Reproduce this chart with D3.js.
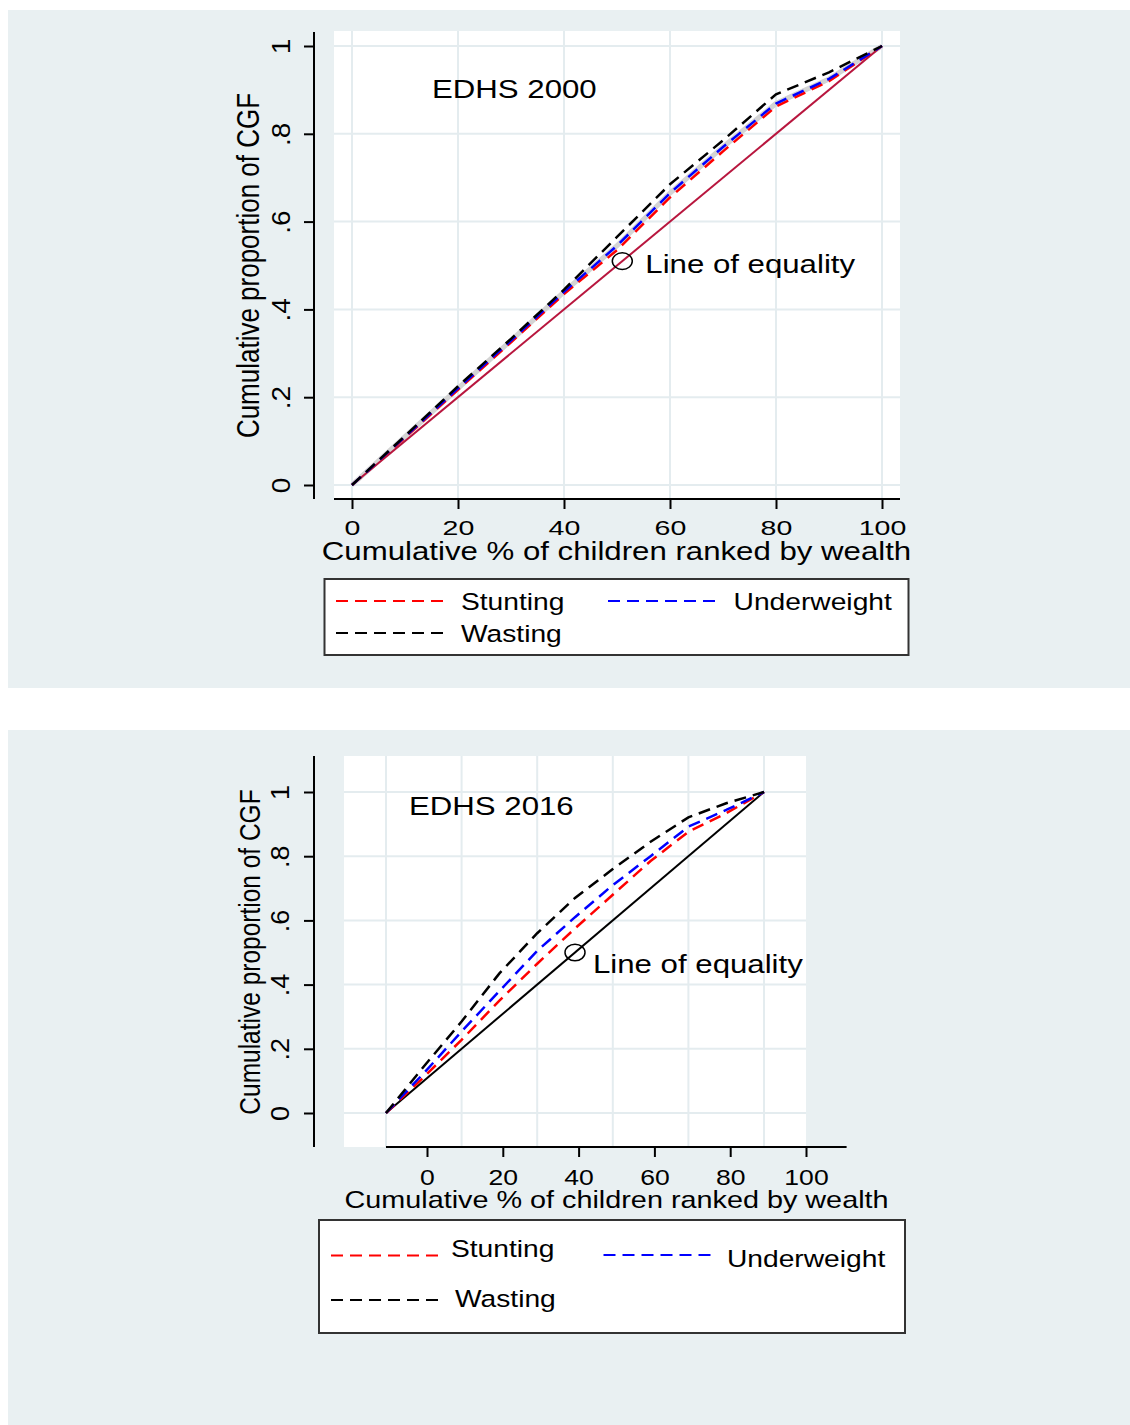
<!DOCTYPE html>
<html>
<head>
<meta charset="utf-8">
<script src="https://cdn.jsdelivr.net/npm/d3@7"></script>
<style>
  html, body { margin: 0; padding: 0; background: #fff; }
  svg { display: block; font-family: "Liberation Sans", Arial, sans-serif; }
</style>
</head>
<body>
<div id="chart"></div>
<script>
// cumulative % of children ranked by wealth
const pct = [0, 10, 20, 30, 40, 50, 60, 70, 80, 90, 100]

// EDHS 2000 concentration curves
const stunting2000 = [0, 0.108, 0.217, 0.325, 0.435, 0.535, 0.655, 0.76, 0.862, 0.92, 1]
const underweight2000 = [0, 0.11, 0.22, 0.329, 0.44, 0.545, 0.665, 0.77, 0.869, 0.925, 1]
const wasting2000 = [0, 0.112, 0.225, 0.333, 0.445, 0.565, 0.685, 0.785, 0.89, 0.94, 1]

// EDHS 2016 concentration curves
const stunting2016 = [0, 0.112, 0.228, 0.35, 0.465, 0.575, 0.68, 0.785, 0.876, 0.934, 1]
const underweight2016 = [0, 0.124, 0.254, 0.38, 0.505, 0.61, 0.71, 0.80, 0.892, 0.944, 1]
const wasting2016 = [0, 0.145, 0.285, 0.435, 0.56, 0.67, 0.76, 0.845, 0.921, 0.965, 1]

// line of equality
const eqX = [0, 100]
const eqY = [0, 1]

const xTicks = [0, 20, 40, 60, 80, 100]
const yTicks = [0, 0.2, 0.4, 0.6, 0.8, 1]
const yTickLabels = ['0', '.2', '.4', '.6', '.8', '1']

const seriesNames = ['Stunting', 'Underweight', 'Wasting']
const seriesColors = ['#ff0000', '#0000ff', '#000000']

const W = 1130, H = 1425
const SX = 1.2 // picture is stretched horizontally
const BG = '#e9f0f2'
const GRID = '#e4ecef'

const svg = d3.select('#chart').append('svg')
  .attr('width', W)
  .attr('height', H)

svg.append('rect').attr('width', W).attr('height', H).attr('fill', '#fff')

function addText(g, x, y, str, size, anchor = 'start', rotate = false, sx = SX) {
  return g.append('text')
    .attr('transform', `translate(${x},${y}) scale(${sx},1)` + (rotate ? ' rotate(-90)' : ''))
    .attr('font-size', size)
    .attr('text-anchor', anchor)
    .attr('fill', '#000')
    .text(str)
}

function drawPanel(p) {
  const g = svg.append('g')

  // graph region
  g.append('rect')
    .attr('x', p.bg[0]).attr('y', p.bg[1])
    .attr('width', p.bg[2]).attr('height', p.bg[3])
    .attr('fill', BG)

  // plot region
  g.append('rect')
    .attr('x', p.plot[0]).attr('y', p.plot[1])
    .attr('width', p.plot[2]).attr('height', p.plot[3])
    .attr('fill', '#fff')

  // grid
  g.append('g').selectAll('line')
    .data(xTicks)
    .join('line')
    .attr('x1', d => p.x(d)).attr('x2', d => p.x(d))
    .attr('y1', p.plot[1]).attr('y2', p.plot[1] + p.plot[3])
    .attr('stroke', GRID).attr('stroke-width', 2)
  g.append('g').selectAll('line')
    .data(yTicks)
    .join('line')
    .attr('x1', p.plot[0]).attr('x2', p.plot[0] + p.plot[2])
    .attr('y1', d => p.y(d)).attr('y2', d => p.y(d))
    .attr('stroke', GRID).attr('stroke-width', 2)

  const line = d3.line()
    .x(d => p.x(d[0]))
    .y(d => p.y(d[1]))

  // light band under the curves (2000 only)
  if (p.band) {
    g.append('path')
      .datum(pct.map((v, i) => [v, p.band[i]]))
      .attr('d', line)
      .attr('fill', 'none')
      .attr('stroke', '#d4d4d4')
      .attr('stroke-width', 5)
  }

  // line of equality
  g.append('path')
    .datum(eqX.map((v, i) => [v, eqY[i]]))
    .attr('d', line)
    .attr('fill', 'none')
    .attr('stroke', p.eqColor)
    .attr('stroke-width', 2)

  // curves
  p.series.forEach((vals, k) => {
    g.append('path')
      .datum(pct.map((v, i) => [v, vals[i]]))
      .attr('d', line)
      .attr('fill', 'none')
      .attr('stroke', seriesColors[k])
      .attr('stroke-width', 2.5)
      .attr('stroke-dasharray', '12,7')
  })

  // equality marker + label
  const cx = p.x(p.marker[0]), cy = p.y(p.marker[1])
  g.append('ellipse')
    .attr('cx', cx).attr('cy', cy)
    .attr('rx', 10).attr('ry', 8.3)
    .attr('fill', 'none')
    .attr('stroke', '#000')
    .attr('stroke-width', 1.5)
  addText(g, cx + p.labelDx, cy + p.labelDy, 'Line of equality', 26)

  addText(g, p.title[0], p.title[1], p.title[2], 26)

  // axes lines
  g.append('line')
    .attr('x1', p.yAxisX).attr('x2', p.yAxisX)
    .attr('y1', p.yAxisExt[0]).attr('y2', p.yAxisExt[1])
    .attr('stroke', '#000').attr('stroke-width', 2)
  g.append('line')
    .attr('x1', p.xAxisExt[0]).attr('x2', p.xAxisExt[1])
    .attr('y1', p.xAxisY).attr('y2', p.xAxisY)
    .attr('stroke', '#000').attr('stroke-width', 2)

  // x axis ticks
  const gx = g.append('g')
    .attr('transform', `translate(0,${p.xAxisY})`)
    .call(d3.axisBottom(p.xAxis).tickValues(xTicks).tickSize(10).tickFormat(d3.format('d')))
  gx.attr('font-size', null).attr('font-family', null)
  gx.select('.domain').remove()
  gx.selectAll('.tick line').attr('stroke', '#000').attr('stroke-width', 2)
  gx.selectAll('.tick text')
    .attr('y', null).attr('dy', null)
    .attr('transform', `translate(0,${p.xTick.off}) scale(${p.xTick.sx},1)`)
    .attr('font-size', p.xTick.size)
    .attr('fill', '#000')

  // y axis ticks
  const gy = g.append('g')
    .attr('transform', `translate(${p.yAxisX},0)`)
    .call(d3.axisLeft(p.y).tickValues(yTicks).tickSize(10).tickFormat((d, i) => yTickLabels[i]))
  gy.attr('font-size', null).attr('font-family', null)
  gy.select('.domain').remove()
  gy.selectAll('.tick line').attr('stroke', '#000').attr('stroke-width', 2)
  gy.selectAll('.tick text')
    .attr('x', null).attr('dy', null)
    .attr('text-anchor', 'middle')
    .attr('transform', `translate(${p.yTick.off},0) scale(${p.yTick.sx},1) rotate(-90)`)
    .attr('font-size', p.yTick.size)
    .attr('fill', '#000')

  // axis titles
  addText(g, p.yTitle[0], p.yTitle[1], 'Cumulative proportion of CGF', p.yTitle[2], 'middle', true)
  addText(g, p.xTitle[0], p.xTitle[1], 'Cumulative % of children ranked by wealth', p.xTitle[2], 'middle')

  // legend
  const lb = p.legend.box
  g.append('rect')
    .attr('x', lb[0]).attr('y', lb[1])
    .attr('width', lb[2]).attr('height', lb[3])
    .attr('fill', '#fff')
    .attr('stroke', '#333')
    .attr('stroke-width', 2)
  p.legend.items.forEach((it, k) => {
    g.append('line')
      .attr('x1', it[0]).attr('x2', it[1])
      .attr('y1', it[2]).attr('y2', it[2])
      .attr('stroke', seriesColors[k])
      .attr('stroke-width', 2)
      .attr('stroke-dasharray', '12,7')
    addText(g, it[3], it[4], seriesNames[k], 23.5)
  })
}

// EDHS 2000
const x2000 = d3.scaleLinear().domain([0, 100]).range([352, 882])
drawPanel({
  bg: [8, 10, 1122, 678],
  plot: [334, 31, 566, 468],
  x: x2000,
  xAxis: x2000,
  y: d3.scaleLinear().domain([0, 1]).range([485, 46]),
  series: [stunting2000, underweight2000, wasting2000],
  band: underweight2000,
  eqColor: '#b8163e',
  marker: [51, 0.51],
  labelDx: 23, labelDy: 12,
  title: [432, 97.5, 'EDHS 2000'],
  yAxisX: 314, yAxisExt: [32, 499],
  xAxisY: 499, xAxisExt: [334, 900],
  xTick: { size: 21, sx: 1.36, off: 35.5 },
  yTick: { size: 28, sx: 0.95, off: -24 },
  yTitle: [259, 265.5, 26],
  xTitle: [616.5, 560, 26],
  legend: {
    box: [324.5, 579, 584, 76],
    items: [
      [336, 443, 601, 461, 610],
      [608, 716, 601, 733.6, 610],
      [336, 443, 633, 461, 642]
    ]
  }
})

// EDHS 2016 (tick labels sit offset from the grid in the original)
drawPanel({
  bg: [8, 730, 1122, 695],
  plot: [344, 756, 462, 391],
  x: d3.scaleLinear().domain([0, 100]).range([386, 764]),
  xAxis: d3.scaleLinear().domain([0, 100]).range([427, 806]),
  y: d3.scaleLinear().domain([0, 1]).range([1113, 792]),
  series: [stunting2016, underweight2016, wasting2016],
  band: null,
  eqColor: '#000',
  marker: [50, 0.5],
  labelDx: 18, labelDy: 20.5,
  title: [409, 815, 'EDHS 2016'],
  yAxisX: 314, yAxisExt: [756, 1147],
  xAxisY: 1147, xAxisExt: [386, 846.6],
  xTick: { size: 22.5, sx: 1.18, off: 37.5 },
  yTick: { size: 27, sx: 0.95, off: -25 },
  yTitle: [260, 952, 24.5],
  xTitle: [616.5, 1208, 24],
  legend: {
    box: [319, 1220, 586, 113],
    items: [
      [331, 438, 1255.5, 451, 1257],
      [603.5, 711, 1255, 727, 1267],
      [331, 438, 1300, 455, 1307]
    ]
  }
})
</script>
</body>
</html>
